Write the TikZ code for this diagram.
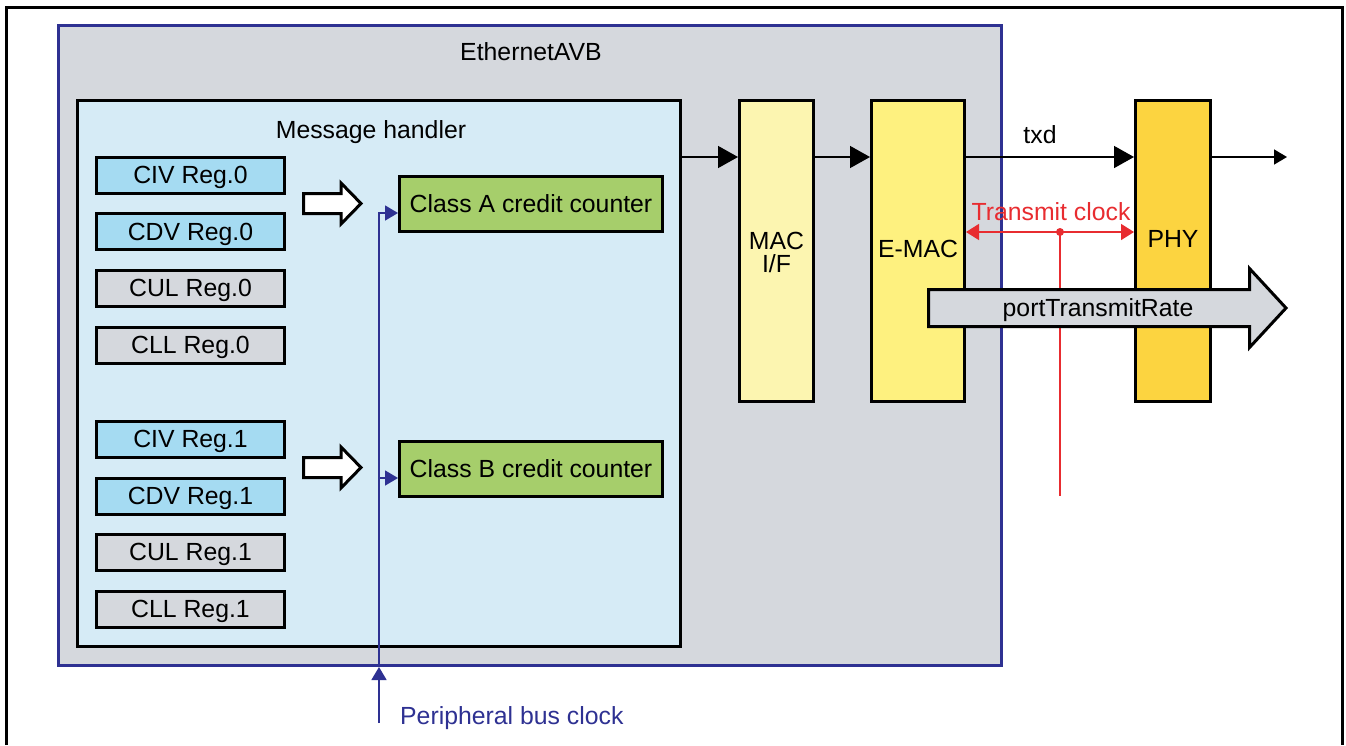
\documentclass[tikz,border=0pt]{standalone}
\usepackage{fontspec}
\setmainfont{Liberation Sans}
\usetikzlibrary{arrows.meta,calc}
\definecolor{avbgray}{RGB}{213,216,221}
\definecolor{avbblue}{RGB}{46,49,146}
\definecolor{mhblue}{RGB}{214,235,246}
\definecolor{regblue}{RGB}{165,219,242}
\definecolor{ccgreen}{RGB}{166,206,107}
\definecolor{macyel}{RGB}{252,245,176}
\definecolor{emacyel}{RGB}{254,241,127}
\definecolor{phyyel}{RGB}{252,212,64}
\definecolor{clkred}{RGB}{232,44,48}
\tikzset{
  capc/.style={text height=17.6pt, text depth=0pt},
  box/.style={draw=black, line width=3pt, inner sep=0pt, anchor=center},
  reg/.style={box, capc, minimum width=188pt, minimum height=36pt},
  regb/.style={reg, fill=regblue},
  regg/.style={reg, fill=avbgray},
  ccbox/.style={box, capc, fill=ccgreen, minimum width=263pt, minimum height=55pt},
  conn/.style={line width=1.5pt, -{Triangle[length=20pt,width=22pt]}},
  connsmall/.style={line width=1.5pt, -{Triangle[length=13pt,width=15pt]}},
  busline/.style={draw=avbblue, line width=1.5pt},
  bustip/.style={-{Triangle[length=13pt,width=15pt]}},
  clkline/.style={draw=clkred, line width=1.5pt},
  hollow/.style={draw=black, line width=3pt, fill=white, line join=miter},
  lbl/.style={inner sep=0pt, anchor=center, capc}
}
\begin{document}
\begin{tikzpicture}[x=1pt,y=-1pt,font=\fontsize{24.8}{29}\selectfont]
\useasboundingbox (0,0) rectangle (1346,745);
\fill[white] (0,0) rectangle (1346,745);
% outer frame (open at bottom)
\draw[line width=3pt] (6,745) -- (6,7.5) -- (1342.5,7.5) -- (1342.5,745);

% EthernetAVB block
\node[box, draw=avbblue, fill=avbgray, minimum width=943pt, minimum height=640pt] (avb) at (530,345.5) {};
\node[lbl] (avbt) at (531,52) {EthernetAVB};

% Message handler
\node[box, fill=mhblue, minimum width=603pt, minimum height=546pt] (mh) at (379,373.5) {};
\node[lbl] (mht) at (371,130) {Message handler};

% registers
\node[regb] (civ0) at (190.5,175) {CIV Reg.0};
\node[regb] (cdv0) at (190.5,231.5) {CDV Reg.0};
\node[regg] (cul0) at (190.5,288) {CUL Reg.0};
\node[regg] (cll0) at (190.5,345) {CLL Reg.0};
\node[regb] (civ1) at (190.5,439) {CIV Reg.1};
\node[regb] (cdv1) at (190.5,496) {CDV Reg.1};
\node[regg] (cul1) at (190.5,552) {CUL Reg.1};
\node[regg] (cll1) at (190.5,609) {CLL Reg.1};

% credit counters
\node[ccbox] (cca) at (531,204) {Class A credit counter};
\node[ccbox] (ccb) at (531,468.5) {Class B credit counter};

% hollow arrows
\draw[hollow] (303.5,193.5) -- (341,193.5) -- (341,183) -- (361,203.5) -- (341,224) -- (341,213.5) -- (303.5,213.5) -- cycle;
\draw[hollow] (303.5,457.5) -- (341,457.5) -- (341,447) -- (361,467.5) -- (341,488) -- (341,477.5) -- (303.5,477.5) -- cycle;

% MAC I/F, E-MAC, PHY
\node[box, fill=macyel, minimum width=74pt, minimum height=301pt] (mac) at (776.5,251) {};
\node[lbl, align=center, font=\fontsize{24.8}{23}\selectfont] (mact) at (776.5,263.5) {MAC\\I/F};
\node[box, fill=emacyel, minimum width=93pt, minimum height=301pt] (emac) at (918,251) {};
\node[lbl] (emact) at (918,249) {E-MAC};
\node[box, fill=phyyel, minimum width=75pt, minimum height=301pt] (phy) at (1173,251) {};
\node[lbl] (phyt) at (1173,239) {PHY};

% data path
\coordinate (dy) at (0,157);
\coordinate (outend) at (1287,157);
\draw[conn] (mh.east |- dy) -- (mac.west |- dy);
\draw[conn] (mac.east |- dy) -- (emac.west |- dy);
\draw[conn] (emac.east |- dy) -- (phy.west |- dy);
\node[lbl] (txd) at (1040,135) {txd};
\draw[connsmall] (phy.east |- dy) -- (outend);

% transmit clock
\coordinate (cy) at (0,232);
\coordinate (clkdot) at (1060,232);
\coordinate (clkend) at (1060,496);
\draw[clkline, {Triangle[length=13pt,width=16pt]}-{Triangle[length=13pt,width=16pt]}, clkred] (emac.east |- cy) -- (phy.west |- cy);
\draw[clkline] (clkdot) -- (clkend);
\fill[clkred] (clkdot) circle (4pt);
\node[lbl, text=clkred] (clkt) at (1051,212) {Transmit clock};

% portTransmitRate arrow
\draw[hollow, fill=avbgray] (928.5,289.5) -- (1249.5,289.5) -- (1249.5,268.5) -- (1286,308) -- (1249.5,347.5) -- (1249.5,326.5) -- (928.5,326.5) -- cycle;
\node[lbl] (ptr) at (1098,308) {portTransmitRate};

% peripheral bus clock
\coordinate (pbstart) at (379,723);
\coordinate (pbentry) at (379,667);
\coordinate (pba) at (379,213);
\coordinate (pbb) at (379,478);
\draw[busline, bustip, avbblue] (pbstart) -- (pbentry);
\draw[busline, bustip, avbblue] (pbentry) -- (pba) -- (cca.west |- pba);
\draw[busline, bustip, avbblue] (pbb) -- (ccb.west |- pbb);
\node[lbl, anchor=west, text=avbblue] (pbt) at (400,716) {Peripheral bus clock};
\end{tikzpicture}
\end{document}
